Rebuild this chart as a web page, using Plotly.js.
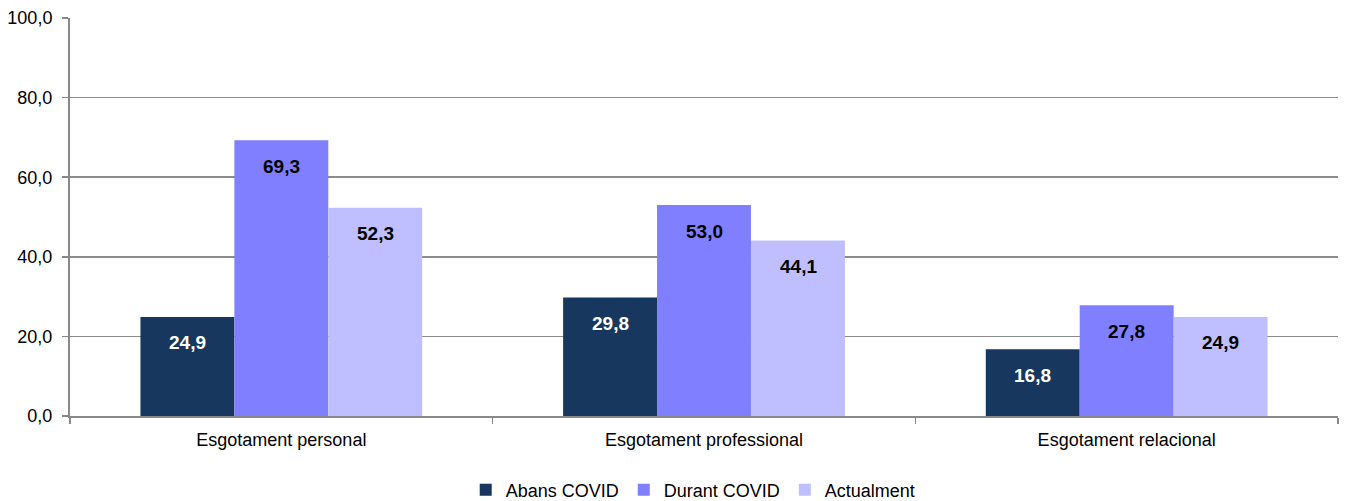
<!DOCTYPE html>
<html><head><meta charset="utf-8">
<script src="https://cdn.plot.ly/plotly-3.0.1.min.js"></script>
<style>body{margin:0;background:#fff}#c{width:1349px;height:501px}</style>
</head><body><div id="c"></div>
<script>
const categories = ["Esgotament personal", "Esgotament professional", "Esgotament relacional"];
const seriesNames = ["Abans COVID", "Durant COVID", "Actualment"];
const abans = [24.9, 29.8, 16.8];
const durant = [69.3, 53.0, 27.8];
const actualment = [52.3, 44.1, 24.9];
const yTicks = [0, 20, 40, 60, 80, 100];

const colors = ["#17375E", "#7F7FFF", "#BFBFFF"];
const labelColors = ["#FFFFFF", "#000000", "#000000"];
const FONT = "'Liberation Sans Narrow', 'Arial Narrow', 'Liberation Sans', Arial, sans-serif";
const fmt = v => v.toFixed(1).replace('.', ',');

const series = [abans, durant, actualment];
const traces = series.map((vals, i) => ({
  type: 'bar', name: seriesNames[i], x: categories, y: vals,
  marker: {color: colors[i], line: {width: 0}},
  hoverinfo: 'none'
}));

const annotations = [];
series.forEach((vals, i) => {
  vals.forEach((v, j) => {
    annotations.push({
      x: categories[j], y: v, xref: 'x', yref: 'y',
      text: '<b>' + fmt(v) + '</b>', showarrow: false,
      xshift: (i - 1) * 94, yshift: -26,
      font: {family: FONT, size: 19, color: labelColors[i]}
    });
  });
});

const layout = {
  width: 1349, height: 501,
  margin: {l: 70, r: 11, t: 18, b: 85, autoexpand: false},
  paper_bgcolor: '#fff', plot_bgcolor: '#fff',
  barmode: 'group', bargap: 1/3, bargroupgap: 0,
  separators: ', ',
  font: {family: FONT, size: 18, color: '#000'},
  showlegend: true,
  legend: {orientation: 'h', x: 0.4915, xanchor: 'center', yref: 'container', y: 0.022, yanchor: 'middle',
           font: {family: FONT, size: 18}, itemwidth: 30, traceorder: 'normal'},
  xaxis: {
    type: 'category', showline: true, linecolor: '#888', linewidth: 2,
    ticks: 'outside', tickson: 'boundaries', ticklen: 6, tickcolor: '#888', tickwidth: 1.5,
    showgrid: false, tickfont: {family: FONT, size: 18}, ticklabelstandoff: 6
  },
  yaxis: {
    range: [0, 100], tickvals: yTicks, tickformat: '.1f',
    showline: true, linecolor: '#888', linewidth: 2,
    ticks: 'outside', ticklen: 6, tickcolor: '#888', tickwidth: 1.5,
    showgrid: true, gridcolor: '#8c8c8c', gridwidth: 1.5,
    zeroline: false, tickfont: {family: FONT, size: 18}, ticklabelstandoff: 6
  },
  annotations: annotations
};

Plotly.newPlot('c', traces, layout, {staticPlot: true, displayModeBar: false});
</script></body></html>
